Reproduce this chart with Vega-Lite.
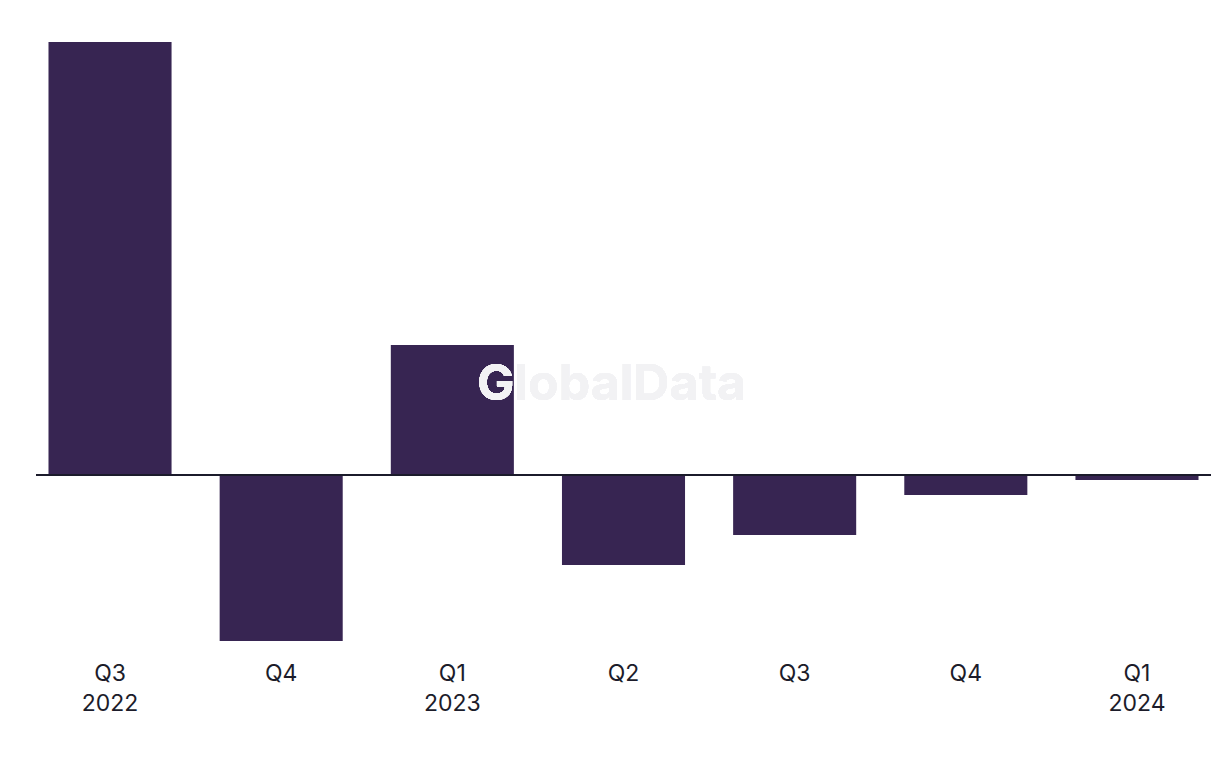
{
  "$schema": "https://vega.github.io/schema/vega-lite/v6.json",
  "width": 1175,
  "height": 599,
  "padding": {"left": 35, "top": 42, "right": 10, "bottom": 10},
  "background": "white",
  "config": {"view": {"stroke": null}, "font": "Inter"},
  "data": {
    "values": [
      {"period": "2022 Q3", "value": 43.3},
      {"period": "2022 Q4", "value": -16.6},
      {"period": "2023 Q1", "value": 13.0},
      {"period": "2023 Q2", "value": -9.0},
      {"period": "2023 Q3", "value": -6.0},
      {"period": "2023 Q4", "value": -2.0},
      {"period": "2024 Q1", "value": -0.5}
    ]
  },
  "layer": [
    {
      "mark": {"type": "bar", "color": "#372552"},
      "encoding": {
        "x": {
          "field": "period",
          "type": "ordinal",
          "sort": null,
          "scale": {"paddingInner": 0.281, "paddingOuter": 0.073},
          "axis": {
            "title": null,
            "domain": false,
            "ticks": false,
            "labelAngle": 0,
            "labelFont": "Inter",
            "labelFontSize": 23,
            "labelColor": "#1c1c2a",
            "labelPadding": 21,
            "labelLineHeight": 30,
            "labelExpr": "indexof(['2022 Q3','2023 Q1','2024 Q1'], datum.value) >= 0 ? [substring(datum.value,5), substring(datum.value,0,4)] : substring(datum.value,5)"
          }
        },
        "y": {
          "field": "value",
          "type": "quantitative",
          "scale": {"domain": [-16.6, 43.3], "nice": false, "zero": false},
          "axis": null
        }
      }
    },
    {
      "mark": {"type": "rule", "color": "#1b1b2b", "strokeWidth": 2},
      "encoding": {"y": {"datum": 0}}
    },
    {
      "mark": {"type": "text", "text": "GlobalData", "font": "Inter", "fontWeight": "bold", "fontSize": 50, "color": "#f2f2f4", "dx": -12, "baseline": "middle"},
      "encoding": {"y": {"datum": 9.0}}
    }
  ]
}
